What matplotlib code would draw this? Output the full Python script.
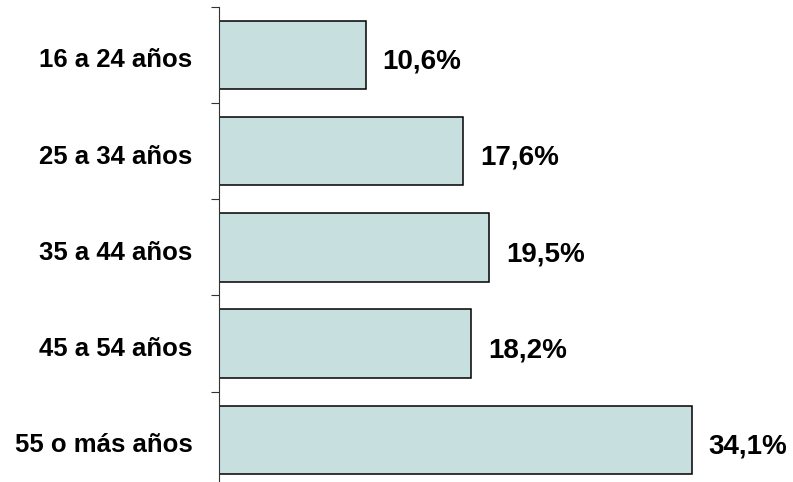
import numpy as np
import matplotlib.pyplot as plt

categories = ['16 a 24 años', '25 a 34 años', '35 a 44 años', '45 a 54 años', '55 o más años']
values = [10.6, 17.6, 19.5, 18.2, 34.1]
value_labels = ['10,6%', '17,6%', '19,5%', '18,2%', '34,1%']

plt.rcParams['font.family'] = ['Liberation Sans', 'DejaVu Sans']

fig = plt.figure(figsize=(7.93, 4.82), dpi=100)
ax = fig.add_axes([0.276, -0.012, 0.70, 0.9975])

y = np.arange(len(categories))
ax.barh(y, values, height=0.71, color='#c7dfdf', edgecolor='black', linewidth=1.1)

# value labels sit a little below the bar centre, as in the original
for yi, v, lab in zip(y, values, value_labels):
    ax.text(v + 1.2, yi + 0.07, lab, va='center', ha='left', fontsize=20, fontweight='bold')

ax.set_xlim(0, 40)
ax.set_ylim(len(categories) - 0.5, -0.5)

# boundary ticks (Excel style), labels on minor ticks at bar centres
ax.set_yticks(np.arange(len(categories) + 1) - 0.5)
ax.set_yticklabels([])
ax.tick_params(axis='y', which='major', length=6, width=0.8, color='#333333')
ax.set_yticks(y + 0.03, minor=True)
ax.set_yticklabels(categories, minor=True, fontsize=18.5, fontweight='bold')
ax.tick_params(axis='y', which='minor', length=0, pad=19)

ax.set_xticks([])
for s in ['top', 'right', 'bottom']:
    ax.spines[s].set_visible(False)
ax.spines['left'].set_color('#333333')
ax.spines['left'].set_linewidth(0.8)

fig.savefig('out.png', dpi=100)
